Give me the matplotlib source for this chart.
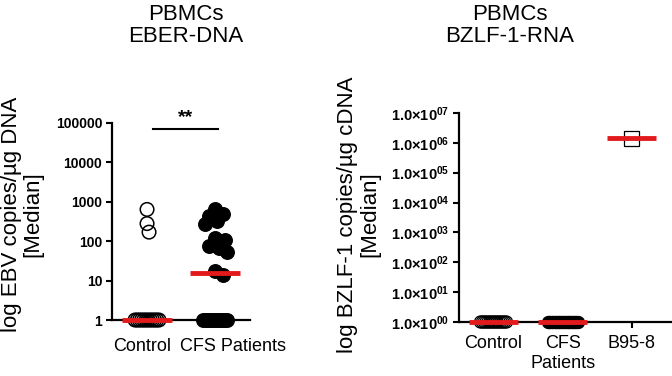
import numpy as np
import matplotlib
matplotlib.use('Agg')
import matplotlib.pyplot as plt

plt.rcParams['font.family'] = ['Liberation Sans', 'DejaVu Sans']
plt.rcParams['mathtext.fontset'] = 'custom'
plt.rcParams['mathtext.rm'] = 'Liberation Sans'
plt.rcParams['mathtext.bf'] = 'Liberation Sans:bold'

# EBER-DNA (left panel)
dna_groups = ['Control', 'CFS Patients']
dna_control = [640, 280, 170] + [1] * 12
dna_cfs = [640, 490, 440, 330, 280, 118, 110, 76, 68, 54, 18, 14] + [1] * 10
dna_yticks = [1, 10, 100, 1000, 10000, 100000]
dna_sig = '**'

# BZLF-1-RNA (right panel)
rna_groups = ['Control', 'CFS\nPatients', 'B95-8']
rna_control = [1] * 15
rna_cfs = [1] * 22
rna_b958 = [1.4e6]
rna_exp = [0, 1, 2, 3, 4, 5, 6, 7]

RED = '#e31a1c'


def swarm(vals, px_x, px_dec, d=10.0, spread=15.0):
    # simple beeswarm in pixel space; tied values are spread evenly
    vals = np.asarray(vals, float)
    ys = np.log10(vals) * px_dec
    offs = np.zeros(len(vals))
    placed = []
    uniq, counts = np.unique(vals, return_counts=True)
    for u, c in zip(uniq, counts):
        if c > 3:
            idx = np.where(vals == u)[0]
            offs[idx] = np.linspace(-spread, spread, c)
    cands = [0.0]
    for k in np.arange(2, spread + 1, 2):
        cands += [k, -k]
    for i in np.argsort(-vals):
        u = vals[i]
        if np.sum(vals == u) > 3:
            continue
        best, bestd = 0.0, -1
        for c in cands:
            md = min([np.hypot(c - px, ys[i] - py) for px, py in placed] + [1e9])
            if md >= d:
                best = c
                break
            if md > bestd:
                best, bestd = c, md
        offs[i] = best
        placed.append((best, ys[i]))
    return offs / px_x


fig = plt.figure(figsize=(6.72, 3.76), dpi=100)

# ---------------- left panel ----------------
ax1 = fig.add_axes([0.1667, 0.1489, 0.2054, 0.524])
px1, dec1 = 68.0, 41.5
x = 0 + swarm(dna_control, px1, dec1, d=9.0, spread=12)
ax1.scatter(x, dna_control, s=95, facecolors='none', edgecolors='black',
            linewidths=1.1, clip_on=False, zorder=3)
x = 1 + swarm(dna_cfs, px1, dec1, d=9.0, spread=12)
ax1.scatter(x, dna_cfs, s=95, facecolors='black', edgecolors='black',
            linewidths=1.0, clip_on=False, zorder=3)
for i, v in enumerate([dna_control, dna_cfs]):
    m = np.median(v)
    ax1.plot([i - 0.37, i + 0.37], [m, m], color=RED, lw=3.5,
             solid_capstyle='butt', clip_on=False, zorder=4)

ax1.set_yscale('log')
ax1.set_ylim(1, 100000)
ax1.set_xlim(-0.515, 1.515)
ax1.set_yticks(dna_yticks)
ax1.set_yticklabels([str(t) for t in dna_yticks], fontsize=10, fontweight='bold')
ax1.minorticks_off()
# labels sit a bit off the columns, as in the original layout
ax1.set_xticks([-0.07, 1.26])
ax1.set_xticklabels(dna_groups, fontsize=13)
ax1.plot([0.09, 1.04], [72000, 72000], color='black', lw=1.5, clip_on=False)
ax1.text(0.565, 82000, dna_sig, ha='center', va='bottom', fontsize=14,
         fontweight='bold')

# ---------------- right panel ----------------
ax2 = fig.add_axes([0.683, 0.1436, 0.3155, 0.556])
px2, dec2 = 69.0, 29.9
x = 0 + swarm(rna_control, px2, dec2, spread=13)
ax2.scatter(x, rna_control, s=75, facecolors='none', edgecolors='black',
            linewidths=0.9, clip_on=False, zorder=3)
x = 1 + swarm(rna_cfs, px2, dec2, spread=15)
ax2.scatter(x, rna_cfs, s=75, facecolors='black', edgecolors='black',
            linewidths=0.9, clip_on=False, zorder=3)
x = 2 + swarm(rna_b958, px2, dec2)
ax2.scatter(x, rna_b958, s=110, marker='s', facecolors='none',
            edgecolors='black', linewidths=0.9, clip_on=False, zorder=3)
for i, v in enumerate([rna_control, rna_cfs, rna_b958]):
    m = np.median(v)
    ax2.plot([i - 0.35, i + 0.35], [m, m], color=RED, lw=3.5,
             solid_capstyle='butt', clip_on=False, zorder=4)

ax2.set_yscale('log')
ax2.set_ylim(1, 1e7)
ax2.set_xlim(-0.5, 2.57)
ax2.set_yticks([10.0 ** e for e in rna_exp])
ax2.set_yticklabels([r'$\mathbf{1.0{\times}10^{%02d}}$' % e for e in rna_exp],
                    fontsize=10.5)
ax2.minorticks_off()
ax2.set_xticks(range(len(rna_groups)))
ax2.set_xticklabels(rna_groups, fontsize=13, linespacing=1.3, va='top')

for ax in (ax1, ax2):
    ax.spines['top'].set_visible(False)
    ax.spines['right'].set_visible(False)
    ax.spines['left'].set_linewidth(1.6)
    ax.spines['bottom'].set_linewidth(1.6)
    ax.tick_params(axis='both', direction='out', length=4, width=1.5, pad=3)
    ax.tick_params(axis='x', pad=5)
ax1.tick_params(axis='x', length=0, pad=13)

# titles and y labels
fig.text(0.277, 0.932, 'PBMCs\nEBER-DNA', ha='center', va='center',
         fontsize=16, linespacing=1.05)
fig.text(0.759, 0.932, 'PBMCs\nBZLF-1-RNA', ha='center', va='center',
         fontsize=16, linespacing=1.05)
fig.text(0.033, 0.43, 'log EBV copies/µg DNA\n[Median]', ha='center',
         va='center', rotation=90, fontsize=16, linespacing=1.05)
fig.text(0.534, 0.43, 'log BZLF-1 copies/µg cDNA\n[Median]', ha='center',
         va='center', rotation=90, fontsize=16, linespacing=1.05)

plt.savefig('out.png', dpi=100)
